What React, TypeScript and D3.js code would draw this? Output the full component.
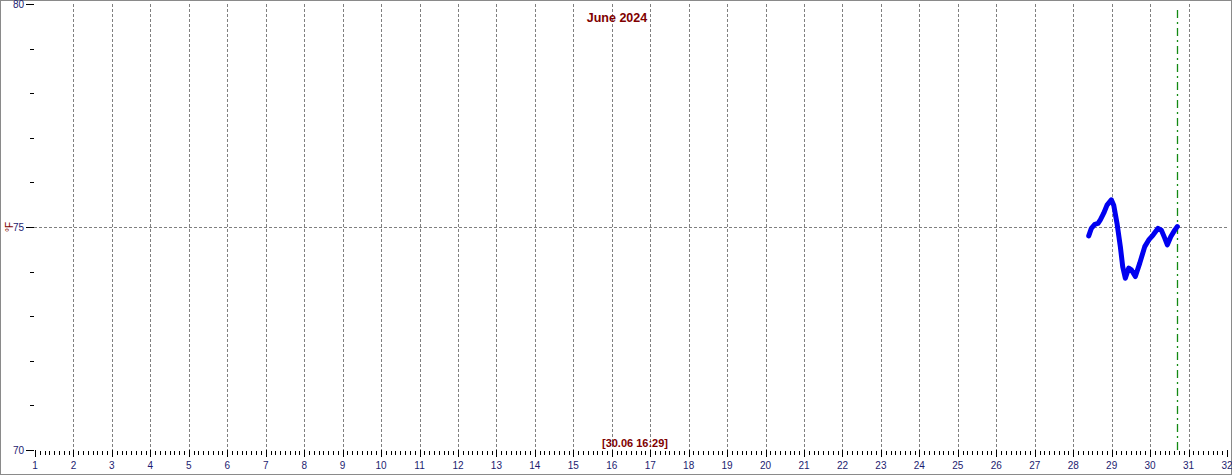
import React from "react";
import * as d3 from "d3";

const WIDTH = 1232;
const HEIGHT = 475;

const title = "June 2024";
const cursorLabel = "[30.06 16:29]";
const unitLabel = "°F";
const cursorDay = 30.687;

const xDays = d3.range(1, 33);
const yMajor = [70, 75, 80];
const yMinor = d3.range(70, 81);

const sampleDays = [
  28.404, 28.472, 28.561, 28.646, 28.706, 28.794, 28.88, 28.992, 29.054, 29.14,
  29.226, 29.288, 29.356, 29.444, 29.512, 29.616, 29.731, 29.861, 29.965, 30.077,
  30.207, 30.293, 30.381, 30.449, 30.537, 30.641, 30.709,
];
const sampleTemps = [
  74.8, 74.97, 75.06, 75.08, 75.16, 75.31, 75.49, 75.61, 75.49, 75.08,
  74.56, 74.11, 73.85, 74.08, 74.04, 73.89, 74.19, 74.56, 74.71, 74.82,
  74.97, 74.93, 74.75, 74.6, 74.78, 74.93, 75.01,
];

export default function App() {
  const x = d3.scaleLinear().domain([1, 32]).range([35, 1227]);
  const y = d3.scaleLinear().domain([70, 80]).range([450, 4]);
  const pts = sampleDays.map((d, i) => [d, sampleTemps[i]] as [number, number]);
  const line = d3
    .line<[number, number]>()
    .x((d) => x(d[0]))
    .y((d) => y(d[1]));

  const minorX: number[] = [];
  for (let d = 1; d < 32; d++) {
    for (let k = 1; k < 8; k++) minorX.push(d + k / 8);
  }

  const font = "Arial, 'Liberation Sans', sans-serif";
  const navy = "#1c1c70";
  const darkRed = "#800000";

  return (
    <svg
      width={WIDTH}
      height={HEIGHT}
      style={{ position: "absolute", left: 0, top: 0, background: "#fff" }}
      fontFamily={font}
    >
      <rect x={0.5} y={0.5} width={WIDTH - 1} height={HEIGHT - 1} fill="#fff" stroke="#8a8a8a" />
      {/* vertical gridlines */}
      {xDays
        .filter((d) => d > 1 && d < 32)
        .map((d) => (
          <line
            key={"g" + d}
            x1={Math.round(x(d)) + 0.5}
            x2={Math.round(x(d)) + 0.5}
            y1={y(80)}
            y2={y(70)}
            stroke="#808080"
            strokeDasharray="3,2"
          />
        ))}
      {/* horizontal gridline at 75 */}
      <line x1={34} x2={1227} y1={Math.round(y(75)) + 0.5} y2={Math.round(y(75)) + 0.5} stroke="#808080" strokeDasharray="3,2" />
      {/* cursor line */}
      <line
        x1={Math.round(x(cursorDay)) + 0.5}
        x2={Math.round(x(cursorDay)) + 0.5}
        y1={10}
        y2={y(70)}
        stroke="#138a13"
        strokeWidth={1.3}
        strokeDasharray="8,4,2,4"
      />
      {/* y axis ticks */}
      {yMinor.map((v) => (
        <line
          key={"ym" + v}
          x1={yMajor.includes(v) ? 26 : 30}
          x2={34}
          y1={Math.round(y(v)) + 0.5}
          y2={Math.round(y(v)) + 0.5}
          stroke="#000"
        />
      ))}
      {yMajor.map((v) => (
        <text key={"yl" + v} x={24} y={y(v) + 3.5} textAnchor="end" fontSize={10} fill={navy}>
          {v}
        </text>
      ))}
      <text
        transform={`translate(13,${y(75)}) rotate(-90)`}
        textAnchor="middle"
        fontSize={10}
        fill={darkRed}
      >
        {unitLabel}
      </text>
      {/* x axis ticks */}
      {minorX.map((v, i) => (
        <line key={"xm" + i} x1={Math.round(x(v)) + 0.5} x2={Math.round(x(v)) + 0.5} y1={451} y2={455} stroke="#000" />
      ))}
      {xDays.map((d) => (
        <line key={"xt" + d} x1={Math.round(x(d)) + 0.5} x2={Math.round(x(d)) + 0.5} y1={450} y2={457} stroke="#000" />
      ))}
      {xDays.map((d) => (
        <text key={"xl" + d} x={x(d)} y={469} textAnchor="middle" fontSize={10} fill={navy}>
          {d}
        </text>
      ))}
      {/* data */}
      <path
        d={line(pts) || ""}
        fill="none"
        stroke="#0000f0"
        strokeWidth={5}
        strokeLinejoin="round"
        strokeLinecap="round"
      />
      {/* title */}
      <text x={617} y={22} textAnchor="middle" fontSize={12.5} fontWeight="bold" fill={darkRed}>
        {title}
      </text>
      <text x={635} y={447} textAnchor="middle" fontSize={11} fontWeight="bold" fill={darkRed}>
        {cursorLabel}
      </text>
    </svg>
  );
}
